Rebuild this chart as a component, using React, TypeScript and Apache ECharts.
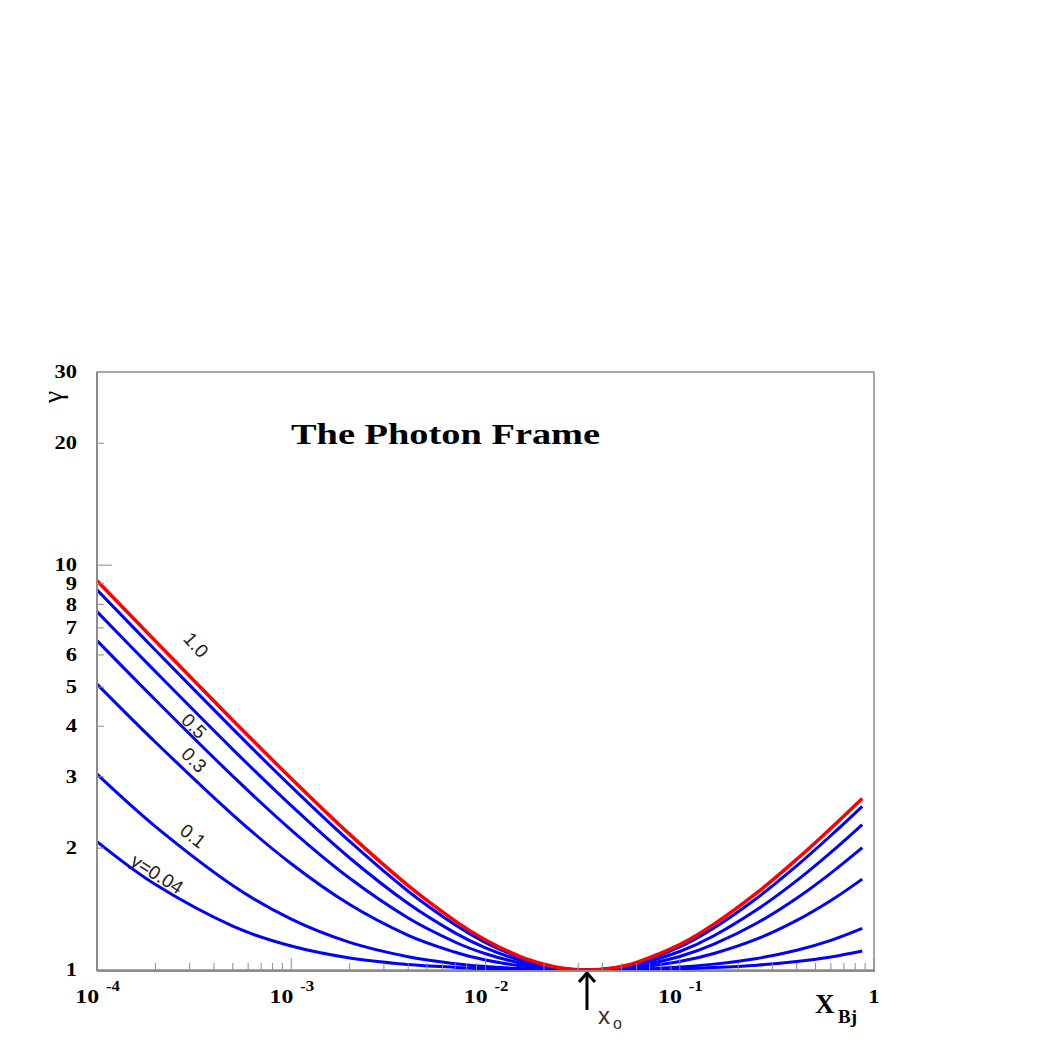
import React, { useEffect, useRef } from "react";
import * as echarts from "echarts";

// ---- data ----
const X_VALUES = [1e-4, 2e-4, 5e-4, 1e-3, 2e-3, 4e-3, 7e-3, 1e-2, 1.5e-2, 2e-2, 2.5e-2, 0.0333, 0.045, 0.06, 0.1, 0.15, 0.25, 0.4, 0.6, 0.87];
const GAMMA_Y100 = [9.151, 6.491, 4.141, 2.972, 2.163, 1.616, 1.32, 1.186, 1.081, 1.033, 1.01, 1.0, 1.011, 1.044, 1.155, 1.297, 1.552, 1.877, 2.24, 2.653];
const GAMMA_Y090 = [8.688, 6.166, 3.941, 2.837, 2.077, 1.565, 1.291, 1.169, 1.073, 1.029, 1.009, 1.0, 1.01, 1.039, 1.14, 1.27, 1.506, 1.809, 2.149, 2.537];
const GAMMA_Y070 = [7.676, 5.458, 3.508, 2.546, 1.891, 1.459, 1.233, 1.134, 1.057, 1.023, 1.007, 1.0, 1.008, 1.031, 1.111, 1.215, 1.41, 1.663, 1.953, 2.287];
const GAMMA_Y050 = [6.51, 4.644, 3.012, 2.217, 1.685, 1.344, 1.171, 1.097, 1.041, 1.017, 1.005, 1.0, 1.006, 1.022, 1.08, 1.158, 1.306, 1.504, 1.735, 2.005];
const GAMMA_Y030 = [5.082, 3.652, 2.418, 1.83, 1.451, 1.218, 1.106, 1.059, 1.025, 1.01, 1.003, 1.0, 1.003, 1.013, 1.049, 1.098, 1.193, 1.326, 1.485, 1.677];
const GAMMA_Y010 = [3.046, 2.261, 1.617, 1.335, 1.17, 1.078, 1.036, 1.02, 1.008, 1.003, 1.001, 1.0, 1.001, 1.005, 1.017, 1.034, 1.068, 1.119, 1.184, 1.267];
const GAMMA_Y004 = [2.076, 1.626, 1.283, 1.146, 1.071, 1.032, 1.015, 1.008, 1.003, 1.001, 1.0, 1.0, 1.0, 1.002, 1.007, 1.014, 1.028, 1.049, 1.077, 1.114];

const X0 = 0.0333;

const X_MAJOR_TICKS = [1e-4, 1e-3, 1e-2, 1e-1, 1];
const X_MINOR_TICKS = [
  2e-4, 3e-4, 4e-4, 5e-4, 6e-4, 7e-4, 8e-4, 9e-4,
  2e-3, 3e-3, 4e-3, 5e-3, 6e-3, 7e-3, 8e-3, 9e-3,
  2e-2, 3e-2, 4e-2, 5e-2, 6e-2, 7e-2, 8e-2, 9e-2,
  0.2, 0.3, 0.4, 0.5, 0.6, 0.7, 0.8, 0.9,
];
const X_LABEL_BASE = ["10", "10", "10", "10", "1"];
const X_LABEL_EXP = ["-4", "-3", "-2", "-1", ""];

const Y_MAJOR_TICKS = [10];
const Y_MINOR_TICKS = [2, 3, 4, 5, 6, 7, 8, 9, 20];
const Y_LABELS = [1, 2, 3, 4, 5, 6, 7, 8, 9, 10, 20, 30];

const BLUE = "#0000ff";
const RED = "#ff0000";
const AXIS_GRAY = "#8c8c8c";
const SERIF = '"Liberation Serif", "Times New Roman", serif';
const SANS = '"Liberation Sans", Arial, sans-serif';

const CURVES = [
  { name: "y=0.04", values: GAMMA_Y004, color: BLUE, width: 3 },
  { name: "y=0.1", values: GAMMA_Y010, color: BLUE, width: 3 },
  { name: "y=0.3", values: GAMMA_Y030, color: BLUE, width: 3 },
  { name: "y=0.5", values: GAMMA_Y050, color: BLUE, width: 3 },
  { name: "y=0.7", values: GAMMA_Y070, color: BLUE, width: 3 },
  { name: "y=0.9", values: GAMMA_Y090, color: BLUE, width: 3 },
  { name: "y=1.0", values: GAMMA_Y100, color: RED, width: 3.5 },
];

function buildOption(): any {
  const lineSeries = CURVES.map((c) => ({
    type: "line",
    name: c.name,
    data: X_VALUES.map((x, i) => [x, c.values[i]]),
    showSymbol: false,
    symbol: "none",
    smooth: 0.35,
    lineStyle: { color: c.color, width: c.width },
    z: 3,
    silent: true,
  }));

  const xTickData = [
    ...X_MAJOR_TICKS.map((v) => [v, 1, 1]),
    ...X_MINOR_TICKS.map((v) => [v, 1, 0]),
  ];
  const xTicks = {
    type: "custom",
    silent: true,
    z: 5,
    data: xTickData,
    encode: { x: 0, y: 1 },
    renderItem: (params: any, api: any) => {
      const v = api.value(0);
      const major = api.value(2) === 1;
      const p = api.coord([v, 1]);
      const len = major ? 12 : 7;
      return {
        type: "line",
        shape: { x1: p[0], y1: p[1], x2: p[0], y2: p[1] - len },
        style: { stroke: AXIS_GRAY, lineWidth: 1 },
      };
    },
  };

  const yTickData = [
    ...Y_MAJOR_TICKS.map((v) => [1e-4, v, 1]),
    ...Y_MINOR_TICKS.map((v) => [1e-4, v, 0]),
  ];
  const yTicks = {
    type: "custom",
    silent: true,
    z: 5,
    data: yTickData,
    encode: { x: 0, y: 1 },
    renderItem: (params: any, api: any) => {
      const v = api.value(1);
      const major = api.value(2) === 1;
      const p = api.coord([1e-4, v]);
      const len = major ? 15 : 7;
      return {
        type: "line",
        shape: { x1: p[0], y1: p[1], x2: p[0] + len, y2: p[1] },
        style: { stroke: AXIS_GRAY, lineWidth: 1 },
      };
    },
  };

  const yLabels = {
    type: "custom",
    silent: true,
    z: 5,
    data: Y_LABELS.map((v) => [1e-4, v]),
    encode: { x: 0, y: 1 },
    renderItem: (params: any, api: any) => {
      const v = api.value(1);
      const p = api.coord([1e-4, v]);
      return {
        type: "text",
        x: p[0] - 20,
        y: p[1],
        scaleX: 1.25,
        style: {
          text: String(v),
          align: "right",
          verticalAlign: "middle",
          fontFamily: SERIF,
          fontWeight: "bold",
          fontSize: 18,
          fill: "#000",
        },
      };
    },
  };

  const xLabels = {
    type: "custom",
    silent: true,
    z: 5,
    data: X_MAJOR_TICKS.map((v) => [v, 1]),
    encode: { x: 0, y: 1 },
    renderItem: (params: any, api: any) => {
      const i = params.dataIndex;
      const v = api.value(0);
      const p = api.coord([v, 1]);
      const base = X_LABEL_BASE[i];
      const exp = X_LABEL_EXP[i];
      if (!exp) {
        return {
          type: "text",
          x: p[0],
          y: p[1] + 27,
          scaleX: 1.2,
          style: {
            text: base,
            align: "center",
            verticalAlign: "middle",
            fontFamily: SERIF,
            fontWeight: "bold",
            fontSize: 19,
            fill: "#000",
          },
        };
      }
      return {
        type: "group",
        children: [
          {
            type: "text",
            x: p[0] + 2,
            y: p[1] + 27,
            scaleX: 1.25,
            style: {
              text: base,
              align: "right",
              verticalAlign: "middle",
              fontFamily: SERIF,
              fontWeight: "bold",
              fontSize: 19,
              fill: "#000",
            },
          },
          {
            type: "text",
            x: p[0] + 9,
            y: p[1] + 16,
            scaleX: 1.2,
            style: {
              text: exp,
              align: "left",
              verticalAlign: "middle",
              fontFamily: SERIF,
              fontWeight: "bold",
              fontSize: 14,
              fill: "#000",
            },
          },
        ],
      };
    },
  };

  const x0Arrow = {
    type: "custom",
    silent: true,
    z: 6,
    data: [[X0, 1]],
    encode: { x: 0, y: 1 },
    renderItem: (params: any, api: any) => {
      const p = api.coord([api.value(0), api.value(1)]);
      const x = p[0];
      const y = p[1];
      return {
        type: "group",
        children: [
          {
            type: "line",
            shape: { x1: x, y1: y + 3, x2: x, y2: y + 40 },
            style: { stroke: "#000", lineWidth: 3 },
          },
          {
            type: "polyline",
            shape: { points: [[x - 8, y + 12], [x, y + 3], [x + 8, y + 12]] },
            style: { stroke: "#000", lineWidth: 3, fill: null },
          },
          {
            type: "text",
            x: x + 11,
            y: y + 45,
            style: {
              text: "x",
              align: "left",
              verticalAlign: "middle",
              fontFamily: SANS,
              fontSize: 24,
              fill: "#333",
            },
          },
          {
            type: "text",
            x: x + 26,
            y: y + 53,
            style: {
              text: "o",
              align: "left",
              verticalAlign: "middle",
              fontFamily: SANS,
              fontSize: 16,
              fill: "#333",
            },
          },
        ],
      };
    },
  };

  const labelStyle = (text: string) => ({
    text,
    fontFamily: SANS,
    fontSize: 19,
    fill: "#222",
    align: "center",
    verticalAlign: "middle",
  });

  return {
    animation: false,
    backgroundColor: "#fff",
    grid: {
      left: 97,
      top: 372,
      right: 172,
      bottom: 76,
      show: true,
      borderColor: AXIS_GRAY,
      borderWidth: 1.5,
      backgroundColor: "transparent",
      containLabel: false,
      outerBoundsMode: "none",
    },
    xAxis: {
      type: "log",
      logBase: 10,
      min: 1e-4,
      max: 1,
      axisLine: { show: false },
      axisTick: { show: false },
      axisLabel: { show: false },
      splitLine: { show: false },
    },
    yAxis: {
      type: "log",
      logBase: 10,
      min: 1,
      max: 30,
      axisLine: { show: false },
      axisTick: { show: false },
      axisLabel: { show: false },
      splitLine: { show: false },
    },
    graphic: [
      { type: "line", shape: { x1: 97, y1: 372, x2: 97, y2: 971 }, style: { stroke: AXIS_GRAY, lineWidth: 2 }, z: 10 },
      { type: "line", shape: { x1: 97, y1: 971, x2: 875, y2: 971 }, style: { stroke: AXIS_GRAY, lineWidth: 2 }, z: 10 },
      {
        type: "text",
        x: 291,
        y: 434,
        scaleX: 1.28,
        style: { text: "The Photon Frame", fontFamily: SERIF, fontWeight: "bold", fontSize: 30, fill: "#000", align: "left", verticalAlign: "middle" },
      },
      {
        type: "text",
        x: 52,
        y: 397,
        rotation: Math.PI / 2,
        style: { text: "γ", fontFamily: SERIF, fontSize: 28, fill: "#000", align: "center", verticalAlign: "middle" },
      },
      {
        type: "text",
        x: 815,
        y: 1004,
        style: { text: "X", fontFamily: SERIF, fontWeight: "bold", fontSize: 27, fill: "#000", align: "left", verticalAlign: "middle" },
      },
      {
        type: "text",
        x: 838,
        y: 1016,
        style: { text: "Bj", fontFamily: SERIF, fontWeight: "bold", fontSize: 19, fill: "#000", align: "left", verticalAlign: "middle" },
      },
      { type: "text", x: 196, y: 645, rotation: (-48 * Math.PI) / 180, style: labelStyle("1.0") },
      { type: "text", x: 194, y: 726, rotation: (-45 * Math.PI) / 180, style: labelStyle("0.5") },
      { type: "text", x: 194, y: 760, rotation: (-45 * Math.PI) / 180, style: labelStyle("0.3") },
      { type: "text", x: 193, y: 836, rotation: (-38 * Math.PI) / 180, style: labelStyle("0.1") },
      { type: "text", x: 157, y: 874, rotation: (-32 * Math.PI) / 180, style: labelStyle("y=0.04") },
    ],
    series: [...lineSeries, xTicks, yTicks, yLabels, xLabels, x0Arrow],
  };
}

export default function App() {
  const ref = useRef<HTMLDivElement>(null);
  useEffect(() => {
    if (!ref.current) return;
    const chart = echarts.init(ref.current, null, { renderer: "svg" });
    chart.setOption(buildOption());
    return () => chart.dispose();
  }, []);
  return (
    <div
      ref={ref}
      style={{ position: "absolute", left: 0, top: 0, width: 1046, height: 1046, background: "#fff" }}
    />
  );
}
